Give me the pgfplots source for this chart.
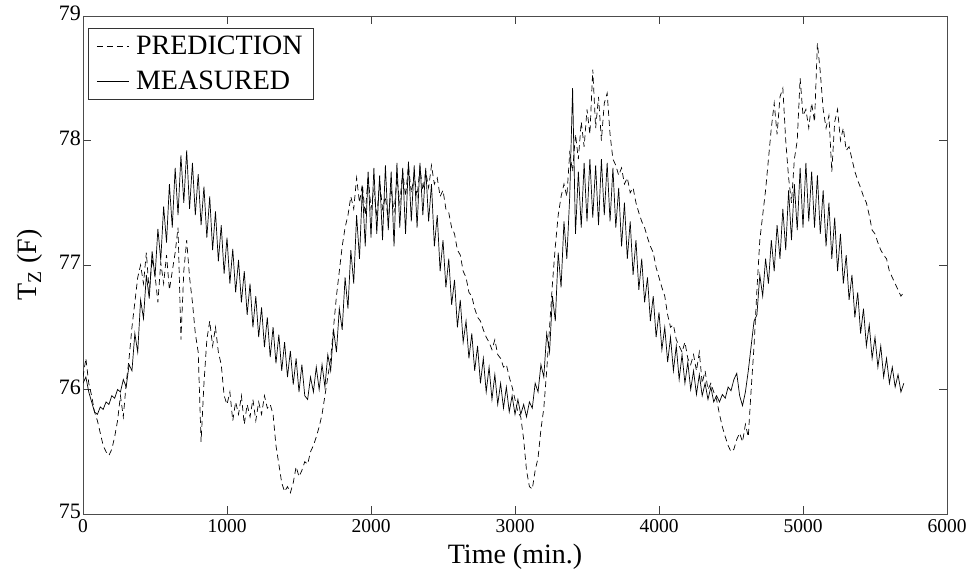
\documentclass[border=0pt]{standalone}
\usepackage{fontspec}
\setmainfont{Liberation Serif}
\usepackage{pgfplots}
\pgfplotsset{compat=1.18}
\begin{document}
\begin{tikzpicture}
\begin{axis}[
  scale only axis, width=864pt, height=498pt,
  xmin=0, xmax=6000, ymin=75, ymax=79,
  xtick={0,1000,2000,3000,4000,5000,6000},
  ytick={75,76,77,78,79},
  scaled x ticks=false,
  /pgf/number format/1000 sep={},
  /pgf/number format/assume math mode=true,
  tick align=inside, major tick length=8pt,
  tick style={black!75, line width=0.7pt},
  axis line style={black!70, line width=0.9pt},
  xticklabel style={font=\fontsize{19.5}{22}\selectfont, yshift=-3pt, inner sep=2pt},
  yticklabel style={font=\fontsize{22}{24}\selectfont, xshift=0pt, yshift=2.5pt, inner sep=2pt},
  xlabel={Time (min.)},
  ylabel={T\textsubscript{Z} (F)},
  label style={font=\fontsize{28}{32}\selectfont},
  xlabel style={at={(axis description cs:0.5,0)}, anchor=base, yshift=-49pt},
  ylabel style={at={(axis description cs:-0.0613,0.5)}, anchor=center},
  legend style={at={(axis description cs:0,1)}, anchor=north west, xshift=5pt, yshift=-12pt,
    font=\fontsize{28}{30}\selectfont, draw=black!80, line width=0.8pt, inner xsep=8pt, inner ysep=5pt,
    nodes={inner sep=3pt}, row sep=9pt, column sep=4pt},
  legend cell align=left,
  legend image code/.code={\draw[#1] (0pt,0pt) -- (32pt,0pt);},
]
\addplot[black, line width=0.7pt, dash pattern=on 6pt off 4pt] coordinates {
(0,76.10)(20,76.25)(40,76.05)(60,75.95)(80,75.82)(100,75.75)(120,75.65)(140,75.55)(160,75.50)(180,75.47)
(200,75.52)(220,75.62)(240,75.75)(260,75.95)(280,75.78)(300,76.05)(320,76.25)(340,76.50)(360,76.70)(380,76.90)
(400,77.00)(420,76.85)(440,77.10)(460,76.78)(480,77.05)(500,76.92)(520,76.70)(540,77.02)(560,76.85)(580,77.08)
(600,76.80)(620,76.95)(640,77.10)(660,77.30)(680,76.40)(700,76.95)(720,77.20)(740,76.90)(760,76.70)(780,76.45)
(800,76.30)(820,75.58)(840,76.05)(860,76.40)(880,76.55)(900,76.35)(920,76.50)(940,76.30)(960,76.20)(980,75.95)
(1000,75.88)(1020,75.98)(1040,75.75)(1060,75.90)(1080,75.80)(1100,75.95)(1120,75.72)(1140,75.88)(1160,75.78)(1180,75.92)
(1200,75.75)(1220,75.90)(1240,75.80)(1260,75.95)(1280,75.85)(1300,75.88)(1320,75.80)(1340,75.55)(1360,75.40)(1380,75.25)
(1400,75.18)(1420,75.22)(1440,75.17)(1460,75.25)(1480,75.38)(1500,75.30)(1520,75.35)(1540,75.42)(1560,75.40)(1580,75.50)
(1600,75.55)(1620,75.62)(1640,75.70)(1660,75.80)(1680,75.95)(1700,76.10)(1720,76.25)(1740,76.50)(1760,76.75)(1780,76.95)
(1800,77.15)(1820,77.30)(1840,77.40)(1860,77.55)(1880,77.45)(1900,77.70)(1920,77.50)(1940,77.65)(1960,77.40)(1980,77.72)
(2000,77.45)(2020,77.60)(2040,77.38)(2060,77.68)(2080,77.45)(2100,77.55)(2120,77.35)(2140,77.62)(2160,77.42)(2180,77.70)
(2200,77.50)(2220,77.75)(2240,77.55)(2260,77.80)(2280,77.58)(2300,77.72)(2320,77.55)(2340,77.78)(2360,77.60)(2380,77.75)
(2400,77.62)(2420,77.80)(2440,77.65)(2460,77.70)(2480,77.55)(2500,77.60)(2520,77.45)(2540,77.42)(2560,77.30)(2580,77.25)
(2600,77.12)(2620,77.08)(2640,76.95)(2660,76.90)(2680,76.78)(2700,76.75)(2720,76.65)(2740,76.58)(2760,76.55)(2780,76.48)
(2800,76.42)(2820,76.38)(2840,76.32)(2860,76.40)(2880,76.28)(2900,76.25)(2920,76.18)(2940,76.20)(2960,76.10)(2980,76.02)
(3000,75.92)(3020,75.82)(3040,75.78)(3060,75.60)(3080,75.35)(3100,75.22)(3120,75.20)(3140,75.35)(3160,75.45)(3180,75.68)
(3200,75.85)(3220,76.15)(3240,76.50)(3260,76.85)(3280,77.15)(3300,77.40)(3320,77.55)(3340,77.65)(3360,77.55)(3380,77.90)
(3400,77.75)(3420,78.05)(3440,77.85)(3460,78.15)(3480,77.95)(3500,78.25)(3520,78.05)(3540,78.57)(3560,78.10)(3580,78.35)
(3600,78.00)(3620,78.30)(3640,78.38)(3660,78.05)(3680,77.85)(3700,77.80)(3720,77.72)(3740,77.78)(3760,77.65)(3780,77.70)
(3800,77.58)(3820,77.62)(3840,77.50)(3860,77.42)(3880,77.35)(3900,77.30)(3920,77.22)(3940,77.15)(3960,77.10)(3980,76.98)
(4000,76.90)(4020,76.82)(4040,76.75)(4060,76.60)(4080,76.50)(4100,76.52)(4120,76.40)(4140,76.35)(4160,76.30)(4180,76.38)
(4200,76.25)(4220,76.20)(4240,76.28)(4260,76.15)(4280,76.30)(4300,76.05)(4320,76.15)(4340,76.00)(4360,76.05)(4380,75.98)
(4400,75.92)(4420,75.80)(4440,75.70)(4460,75.62)(4480,75.55)(4500,75.50)(4520,75.52)(4540,75.60)(4560,75.65)(4580,75.58)
(4600,75.72)(4620,75.62)(4640,76.00)(4660,76.35)(4680,76.80)(4700,77.20)(4720,77.40)(4740,77.60)(4760,77.85)(4780,78.10)
(4800,78.30)(4820,78.05)(4840,78.35)(4860,78.42)(4880,78.00)(4900,77.70)(4920,77.50)(4940,77.85)(4960,78.00)(4980,78.50)
(5000,78.20)(5020,78.25)(5040,78.10)(5060,78.30)(5080,78.15)(5100,78.78)(5120,78.55)(5140,78.25)(5160,78.10)(5180,78.20)
(5200,77.75)(5220,78.15)(5240,78.25)(5260,78.00)(5280,78.10)(5300,77.92)(5320,77.95)(5340,77.85)(5360,77.75)(5380,77.68)
(5400,77.62)(5420,77.55)(5440,77.50)(5460,77.40)(5480,77.28)(5500,77.25)(5520,77.18)(5540,77.12)(5560,77.08)(5580,77.05)
(5600,76.95)(5620,76.90)(5640,76.85)(5660,76.80)(5680,76.75)(5700,76.78)
};
\addlegendentry{PREDICTION}
\addplot[black, line width=0.7pt] coordinates {
(0,76.05)(20,76.10)(40,75.98)(60,75.90)(80,75.82)(100,75.80)(120,75.86)(140,75.84)(160,75.90)(180,75.88)
(200,75.95)(220,75.93)(240,76.00)(260,75.98)(280,76.08)(300,76.02)(320,76.20)(340,76.15)(360,76.45)(380,76.30)
(400,76.72)(420,76.57)(440,76.92)(460,76.73)(480,77.11)(500,76.90)(520,77.29)(540,77.04)(560,77.47)(580,77.18)
(600,77.65)(620,77.30)(640,77.78)(660,77.40)(680,77.88)(700,77.50)(720,77.92)(740,77.45)(760,77.82)(780,77.40)
(800,77.73)(820,77.32)(840,77.63)(860,77.22)(880,77.55)(900,77.12)(920,77.43)(940,77.03)(960,77.32)(980,76.93)
(1000,77.22)(1020,76.85)(1040,77.13)(1060,76.78)(1080,77.04)(1100,76.70)(1120,76.95)(1140,76.60)(1160,76.85)(1180,76.50)
(1200,76.75)(1220,76.42)(1240,76.66)(1260,76.34)(1280,76.58)(1300,76.26)(1320,76.50)(1340,76.21)(1360,76.44)(1380,76.15)
(1400,76.38)(1420,76.10)(1440,76.31)(1460,76.04)(1480,76.25)(1500,75.98)(1520,76.20)(1540,75.95)(1560,75.92)(1580,76.10)
(1600,75.98)(1620,76.18)(1640,76.00)(1660,76.20)(1680,76.02)(1700,76.28)(1720,76.15)(1740,76.48)(1760,76.30)(1780,76.65)
(1800,76.48)(1820,76.90)(1840,76.65)(1860,77.12)(1880,76.85)(1900,77.40)(1920,77.05)(1940,77.62)(1960,77.15)(1980,77.75)
(2000,77.22)(2020,77.78)(2040,77.25)(2060,77.72)(2080,77.20)(2100,77.80)(2120,77.28)(2140,77.75)(2160,77.15)(2180,77.82)
(2200,77.30)(2220,77.78)(2240,77.25)(2260,77.83)(2280,77.35)(2300,77.80)(2320,77.30)(2340,77.82)(2360,77.40)(2380,77.78)
(2400,77.35)(2420,77.65)(2440,77.15)(2460,77.40)(2480,76.95)(2500,77.20)(2520,76.82)(2540,77.05)(2560,76.68)(2580,76.88)
(2600,76.50)(2620,76.72)(2640,76.38)(2660,76.55)(2680,76.25)(2700,76.45)(2720,76.15)(2740,76.35)(2760,76.05)(2780,76.25)
(2800,75.98)(2820,76.18)(2840,75.92)(2860,76.12)(2880,75.88)(2900,76.05)(2920,75.85)(2940,76.02)(2960,75.82)(2980,75.95)
(3000,75.80)(3020,75.92)(3040,75.80)(3060,75.88)(3080,75.78)(3100,75.90)(3120,75.85)(3140,76.05)(3160,75.98)(3180,76.20)
(3200,76.10)(3220,76.45)(3240,76.30)(3260,76.75)(3280,76.55)(3300,77.10)(3320,76.82)(3340,77.35)(3360,77.05)(3380,77.55)
(3400,78.42)(3420,77.25)(3440,77.75)(3460,77.30)(3480,77.82)(3500,77.35)(3520,77.85)(3540,77.38)(3560,77.80)(3580,77.32)
(3600,77.85)(3620,77.40)(3640,77.82)(3660,77.35)(3680,77.78)(3700,77.30)(3720,77.62)(3740,77.15)(3760,77.50)(3780,77.05)
(3800,77.35)(3820,76.92)(3840,77.20)(3860,76.80)(3880,77.05)(3900,76.70)(3920,76.90)(3940,76.55)(3960,76.75)(3980,76.42)
(4000,76.62)(4020,76.32)(4040,76.50)(4060,76.22)(4080,76.42)(4100,76.15)(4120,76.35)(4140,76.08)(4160,76.28)(4180,76.05)
(4200,76.22)(4220,76.00)(4240,76.15)(4260,75.96)(4280,76.12)(4300,75.95)(4320,76.05)(4340,75.92)(4360,76.02)(4380,75.90)
(4400,75.95)(4420,75.90)(4440,75.96)(4460,75.93)(4480,76.02)(4500,75.99)(4520,76.08)(4540,76.13)(4560,75.95)(4580,75.87)
(4600,75.98)(4620,76.15)(4640,76.35)(4660,76.55)(4680,76.60)(4700,76.92)(4720,76.75)(4740,77.05)(4760,76.85)(4780,77.20)
(4800,76.95)(4820,77.32)(4840,77.05)(4860,77.45)(4880,77.12)(4900,77.60)(4920,77.20)(4940,77.65)(4960,77.28)(4980,77.78)
(5000,77.30)(5020,77.82)(5040,77.35)(5060,77.75)(5080,77.30)(5100,77.72)(5120,77.25)(5140,77.60)(5160,77.15)(5180,77.50)
(5200,77.05)(5220,77.38)(5240,76.95)(5260,77.25)(5280,76.85)(5300,77.08)(5320,76.72)(5340,76.92)(5360,76.58)(5380,76.78)
(5400,76.45)(5420,76.65)(5440,76.35)(5460,76.52)(5480,76.25)(5500,76.42)(5520,76.18)(5540,76.35)(5560,76.10)(5580,76.25)
(5600,76.05)(5620,76.18)(5640,76.02)(5660,76.12)(5680,75.98)(5700,76.05)
};
\addlegendentry{MEASURED}
\end{axis}
\path ([xshift=-83pt,yshift=-55pt]current axis.south west) rectangle ([xshift=28pt,yshift=16pt]current axis.north east);
\end{tikzpicture}
\end{document}
